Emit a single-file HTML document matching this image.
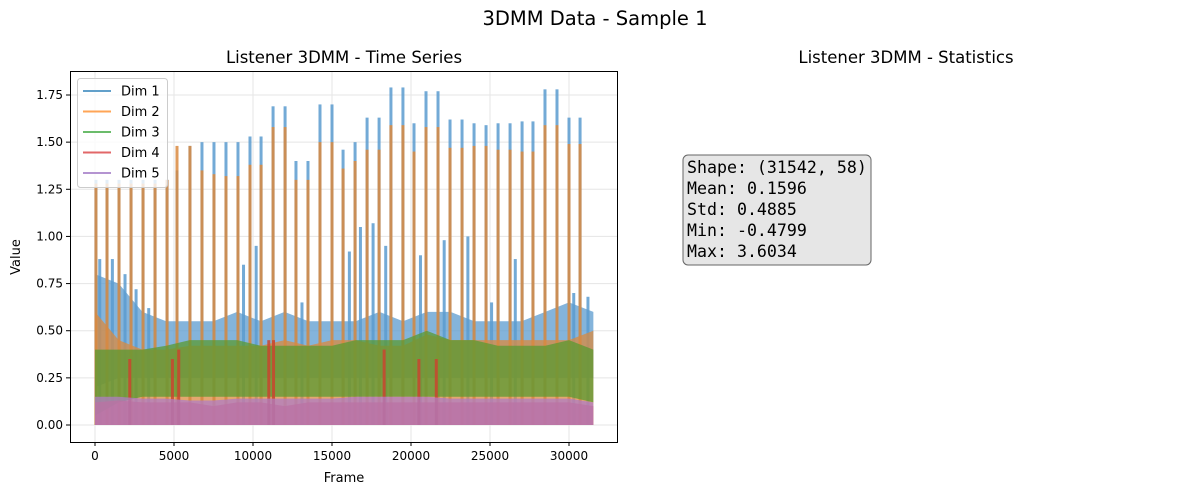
<!DOCTYPE html>
<html><head><meta charset="utf-8"><style>
body{margin:0;background:#fff;font-family:"Liberation Sans","DejaVu Sans",sans-serif}
svg text{font-family:"DejaVu Sans","Liberation Sans",sans-serif}
</style></head><body>
<svg id="c" width="1189" height="495">
<text x="595" y="25" font-size="19.5" text-anchor="middle">3DMM Data - Sample 1</text>
<text x="344" y="63" font-size="16.5" text-anchor="middle">Listener 3DMM - Time Series</text>
<text x="906" y="63" font-size="16.5" text-anchor="middle">Listener 3DMM - Statistics</text>
<g id="grid"></g><g id="marks"></g><g id="axes"></g>
<rect x="70.5" y="71.5" width="547" height="371" fill="none" stroke="#000" stroke-width="1"/>
<text x="344" y="482" font-size="13" text-anchor="middle">Frame</text>
<text x="20" y="257" font-size="13" text-anchor="middle" transform="rotate(-90 20 257)">Value</text>
<g>
<rect x="77.5" y="78.5" width="90" height="109" rx="3" fill="#fff" fill-opacity="0.8" stroke="#ccc"/>
<g id="leg"></g></g>
<g>
<rect x="683" y="155" width="188" height="110" rx="5" fill="#e6e6e6" stroke="#666" stroke-width="1"/>
<text font-size="16.6" style="font-family:'DejaVu Sans Mono','Liberation Mono',monospace">
<tspan x="687" y="173">Shape: (31542, 58)</tspan><tspan x="687" y="194">Mean: 0.1596</tspan><tspan x="687" y="215">Std: 0.4885</tspan><tspan x="687" y="236">Min: -0.4799</tspan><tspan x="687" y="257">Max: 3.6034</tspan></text></g>
</svg>
<script>
const envFrames=[0,1500,3000,4500,6000,7500,9000,10500,12000,13500,15000,16500,18000,19500,21000,22500,24000,25500,27000,28500,30000,31542];
const dim1Hi=[0.8,0.75,0.6,0.55,0.55,0.55,0.6,0.55,0.6,0.55,0.55,0.55,0.6,0.55,0.6,0.6,0.55,0.55,0.55,0.6,0.65,0.6];
const dim1Lo=[0.2,0.25,0.25,0.25,0.25,0.25,0.25,0.25,0.25,0.25,0.25,0.25,0.25,0.25,0.25,0.25,0.25,0.25,0.25,0.25,0.25,0.25];
const dim2Hi=[0.6,0.45,0.4,0.4,0.42,0.42,0.42,0.42,0.45,0.42,0.45,0.45,0.42,0.42,0.48,0.45,0.45,0.45,0.45,0.45,0.45,0.5];
const dim3Hi=[0.4,0.4,0.4,0.42,0.45,0.45,0.45,0.42,0.42,0.42,0.42,0.45,0.45,0.45,0.5,0.45,0.45,0.42,0.42,0.42,0.45,0.4];
const dim3Lo=[0.05,0.12,0.15,0.15,0.15,0.15,0.15,0.15,0.15,0.15,0.15,0.15,0.15,0.15,0.15,0.15,0.15,0.15,0.15,0.15,0.15,0.12];
const dim4Hi=[0.12,0.13,0.12,0.12,0.12,0.1,0.12,0.12,0.1,0.12,0.12,0.12,0.12,0.12,0.12,0.12,0.12,0.12,0.12,0.12,0.12,0.1];
const dim5Hi=[0.15,0.15,0.14,0.14,0.13,0.13,0.14,0.14,0.14,0.14,0.14,0.15,0.15,0.15,0.15,0.14,0.14,0.14,0.14,0.14,0.14,0.12];
const peakFrames=[60,760,1520,2280,3040,3800,4560,5190,6010,6770,7530,8290,9050,9810,10510,11270,12030,12720,13480,14240,15000,15700,16460,17220,17980,18730,19490,20190,20950,21710,22470,23230,23990,24750,25510,26270,27030,27720,28480,29240,30000,30700];
const dim1Peak=[1.3,1.3,1.3,1.3,1.3,1.3,1.3,1.35,1.48,1.5,1.5,1.5,1.5,1.53,1.53,1.69,1.69,1.4,1.4,1.7,1.7,1.46,1.5,1.63,1.63,1.79,1.79,1.6,1.77,1.77,1.62,1.62,1.6,1.59,1.6,1.6,1.61,1.61,1.78,1.78,1.63,1.63];
const dim2Peak=[1.28,1.28,1.28,1.28,1.28,1.28,1.3,1.48,1.48,1.35,1.33,1.32,1.32,1.38,1.38,1.58,1.58,1.3,1.3,1.5,1.5,1.36,1.4,1.46,1.46,1.59,1.59,1.45,1.58,1.58,1.47,1.47,1.48,1.48,1.46,1.46,1.45,1.45,1.59,1.59,1.49,1.49];
const midFrames=[300,1100,1900,2600,3400,9400,10200,13100,16100,16800,17600,18400,20600,22100,23600,25100,26600,30300,31200];
const dim1Mid=[0.88,0.88,0.8,0.72,0.62,0.85,0.95,0.65,0.92,1.05,1.07,0.95,0.9,0.98,1.0,0.65,0.88,0.7,0.68];
const redFrames=[2200,4900,5300,11000,11300,18300,20500,21600];
const redHi=[0.35,0.35,0.4,0.45,0.45,0.4,0.35,0.35];
const xTicks=[0,5000,10000,15000,20000,25000,30000];
const yTicks=[0,0.25,0.5,0.75,1.0,1.25,1.5,1.75];
const NS='http://www.w3.org/2000/svg';
const X=f=>95+f*474/30000, Y=v=>425-v*330/1.75;
function mk(t,a,p){const e=document.createElementNS(NS,t);for(const k in a)e.setAttribute(k,a[k]);document.getElementById(p).appendChild(e);return e;}
xTicks.forEach(t=>{const x=X(t);
 const g=mk('line',{x1:x,x2:x,y1:71,y2:442,stroke:'#e5e5e5'},'grid');
 
 
 mk('line',{x1:x,x2:x,y1:442,y2:446,stroke:'#000'},'axes');
 const tx=mk('text',{x:x,y:460,'font-size':12,'text-anchor':'middle'},'axes');tx.textContent=t;
 
 });
yTicks.forEach(t=>{const y=Y(t);
 const g=mk('line',{x1:70,x2:617,y1:y,y2:y,stroke:'#e5e5e5'},'grid');
 
 
 mk('line',{x1:66,x2:70,y1:y,y2:y,stroke:'#000'},'axes');
 const tx=mk('text',{x:63,y:y+4,'font-size':12,'text-anchor':'end'},'axes');tx.textContent=t.toFixed(2);
 
 });
function band(hi,lo,col,name){
 let p=envFrames.map((f,i)=>X(f)+','+Y(hi[i])).join(' ');
 p+=' '+envFrames.map((f,i)=>X(f)+','+Y(lo?lo[i]:0)).reverse().join(' ');
 const e=mk('polygon',{points:p,fill:col,'fill-opacity':0.75},'marks');
 
 }
function spikes(fr,vals,col,name,base){
 fr.forEach((f,i)=>{const x=X(f);
  const e=mk('rect',{x:x-1.5,y:Y(vals[i]),width:3,height:Y(base)-Y(vals[i]),fill:col,'fill-opacity':0.85},'marks');
  
  });}
const C=['#1f77b4','#ff7f0e','#2ca02c','#d62728','#9467bd'];
band(dim1Hi,dim1Lo,'#5b9bcf','dim1-series');
spikes(peakFrames,dim1Peak,'#5b9bcf','dim1-peak',0);
spikes(midFrames,dim1Mid,'#5b9bcf','dim1-mid-peak',0);
band(dim2Hi,null,'#d9893f','dim2-series');
spikes(peakFrames,dim2Peak,'#d9893f','dim2-peak',0);
band(dim3Hi,dim3Lo,'#5a9a32','dim3-series');
band(dim4Hi,null,'#d9533f','dim4-series');
spikes(redFrames,redHi,'#c9452f','dim4-peak',0);
band(dim5Hi,null,'#b07cc6','dim5-series');
['Dim 1','Dim 2','Dim 3','Dim 4','Dim 5'].forEach((n,i)=>{const y=91+i*20.5;
 const l=mk('line',{x1:83,x2:111,y1:y,y2:y,stroke:C[i],'stroke-opacity':0.7,'stroke-width':2},'leg');
 
 
 const t=mk('text',{x:121,y:y+4.5,'font-size':13},'leg');t.textContent=n;
 
 });
</script>
</body></html>
